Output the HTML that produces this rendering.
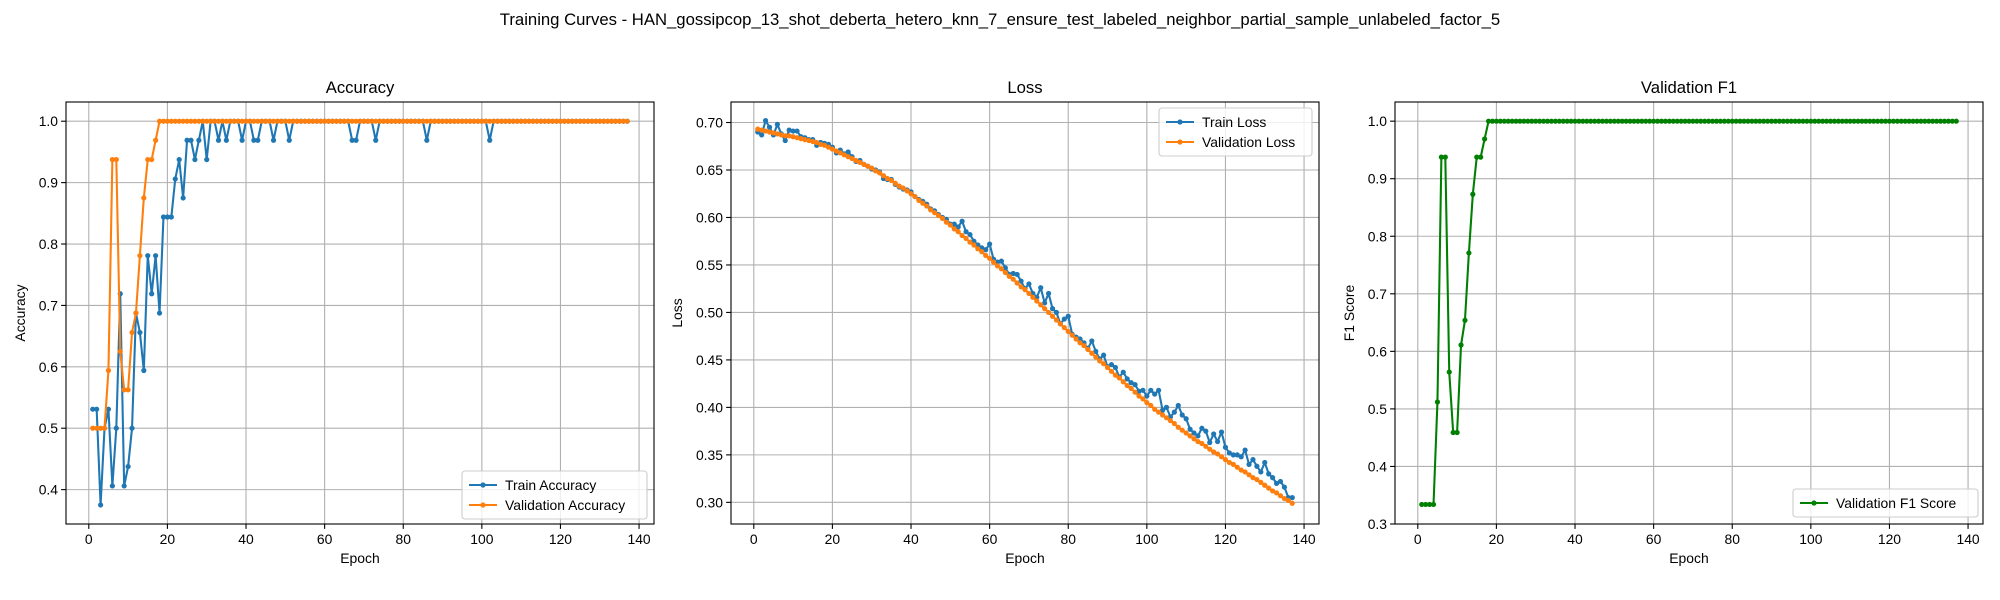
<!DOCTYPE html>
<html><head><meta charset="utf-8"><style>
html,body{margin:0;padding:0;background:#fff;}
svg{display:block;font-family:"Liberation Sans","DejaVu Sans",sans-serif;}
</style></head><body>
<svg id="fig" width="2000" height="600" viewBox="0 0 2000 600" xmlns="http://www.w3.org/2000/svg">
<rect width="2000" height="600" fill="#fff"/>
<text x="1000" y="25" text-anchor="middle" font-size="16.7" fill="#000">Training Curves - HAN_gossipcop_13_shot_deberta_hetero_knn_7_ensure_test_labeled_neighbor_partial_sample_unlabeled_factor_5</text>
</svg>
<script>
const epochs = Array.from({length:137},(_,i)=>i+1);
const trainAcc = [0.531,0.531,0.375,0.5,0.531,0.406,0.5,0.719,0.406,0.4375,0.5,0.6875,0.656,0.594,0.781,0.719,0.781,0.6875,0.844,0.844,
0.844,0.906,0.9375,0.875,0.969,0.969,0.9375,0.969,1,0.9375,1,1,0.969,1,0.969,1,1,1,0.969,1,
1,0.969,0.969,1,1,1,0.969,1,1,1,0.969,1,1,1,1,1,1,1,1,1,
1,1,1,1,1,1,0.969,0.969,1,1,1,1,0.969,1,1,1,1,1,1,1,
1,1,1,1,1,0.969,1,1,1,1,1,1,1,1,1,1,1,1,1,1,
1,0.969,1,1,1,1,1,1,1,1,1,1,1,1,1,1,1,1,1,1,
1,1,1,1,1,1,1,1,1,1,1,1,1,1,1,1,1];
const valAcc = [0.5,0.5,0.5,0.5,0.594,0.9375,0.9375,0.625,0.5625,0.5625,0.656,0.6875,0.781,0.875,0.9375,0.9375,0.969,
1,1,1,1,1,1,1,1,1,1,1,1,1,1,1,1,1,1,1,1,1,1,1,1,1,1,1,1,1,1,1,1,1,1,1,1,1,1,1,1,1,1,1,1,1,1,1,1,1,1,1,1,1,
1,1,1,1,1,1,1,1,1,1,1,1,1,1,1,1,1,1,1,1,1,1,1,1,1,1,1,1,1,1,1,1,1,1,1,1,1,1,1,1,1,1,1,1,1,1,1,1,1,1,1,1,1,1,1,1,1,1,1,1,1,1,1,1,1,1,1];
const trainLoss = [0.690,0.687,0.702,0.695,0.687,0.698,0.688,0.681,0.692,0.691,
0.691,0.685,0.684,0.682,0.682,0.676,0.679,0.678,0.677,0.674,
0.668,0.671,0.667,0.669,0.664,0.659,0.660,0.656,0.654,0.651,
0.650,0.648,0.641,0.640,0.640,0.635,0.632,0.630,0.629,0.627,
0.622,0.619,0.617,0.614,0.609,0.607,0.603,0.600,0.598,0.593,
0.593,0.590,0.596,0.585,0.582,0.575,0.571,0.568,0.566,0.572,
0.556,0.553,0.554,0.547,0.540,0.541,0.540,0.533,0.525,0.530,
0.520,0.516,0.526,0.510,0.520,0.504,0.500,0.488,0.493,0.496,
0.477,0.474,0.472,0.468,0.462,0.470,0.459,0.451,0.455,0.443,
0.445,0.442,0.432,0.437,0.430,0.426,0.424,0.417,0.418,0.412,
0.418,0.414,0.418,0.397,0.400,0.390,0.395,0.402,0.392,0.388,
0.377,0.373,0.370,0.378,0.375,0.363,0.372,0.364,0.374,0.358,
0.352,0.350,0.350,0.348,0.355,0.340,0.345,0.338,0.332,0.342,
0.330,0.326,0.320,0.322,0.316,0.305,0.305];
const valLoss = [0.693,0.692,0.691,0.690,0.689,0.688,0.687,0.686,0.686,0.685,
0.684,0.683,0.682,0.681,0.680,0.679,0.677,0.676,0.674,0.672,
0.670,0.668,0.666,0.664,0.662,0.660,0.658,0.656,0.654,0.652,
0.649,0.647,0.644,0.641,0.639,0.636,0.633,0.631,0.628,0.625,
0.622,0.618,0.615,0.612,0.608,0.605,0.602,0.599,0.595,0.592,
0.588,0.585,0.581,0.578,0.574,0.571,0.567,0.564,0.560,0.557,
0.553,0.549,0.546,0.542,0.538,0.535,0.531,0.527,0.524,0.520,
0.516,0.512,0.508,0.504,0.500,0.496,0.492,0.488,0.484,0.480,
0.476,0.472,0.468,0.465,0.461,0.457,0.453,0.449,0.446,0.442,
0.438,0.434,0.431,0.427,0.423,0.420,0.416,0.412,0.409,0.405,
0.402,0.398,0.395,0.392,0.389,0.386,0.383,0.379,0.376,0.373,
0.370,0.367,0.364,0.362,0.359,0.356,0.353,0.351,0.348,0.345,
0.342,0.340,0.337,0.334,0.332,0.329,0.326,0.324,0.321,0.318,
0.315,0.312,0.310,0.307,0.304,0.302,0.299];
const valF1 = [0.334,0.334,0.334,0.334,0.512,0.9375,0.9375,0.564,0.459,0.459,0.611,0.654,0.771,0.873,0.9375,0.9375,0.969,
1,1,1,1,1,1,1,1,1,1,1,1,1,1,1,1,1,1,1,1,1,1,1,1,1,1,1,1,1,1,1,1,1,1,1,1,1,1,1,1,1,1,1,1,1,1,1,1,1,1,1,1,1,
1,1,1,1,1,1,1,1,1,1,1,1,1,1,1,1,1,1,1,1,1,1,1,1,1,1,1,1,1,1,1,1,1,1,1,1,1,1,1,1,1,1,1,1,1,1,1,1,1,1,1,1,1,1,1,1,1,1,1,1,1,1,1,1,1,1,1];
const xTicks = [0,20,40,60,80,100,120,140];
const accTicks = [0.4,0.5,0.6,0.7,0.8,0.9,1.0];
const lossTicks = [0.30,0.35,0.40,0.45,0.50,0.55,0.60,0.65,0.70];
const f1Ticks = [0.3,0.4,0.5,0.6,0.7,0.8,0.9,1.0];

const NS="http://www.w3.org/2000/svg";
const fig=document.getElementById('fig');
function mk(tag,attrs,parent){const e=document.createElementNS(NS,tag);for(const k in attrs)e.setAttribute(k,attrs[k]);(parent||fig).appendChild(e);return e;}

function panel(cfg){
  const {left,top,w,h,xmin,xmax,ymin,ymax}=cfg;
  const g=mk('g',{});
  
  
  const X=v=>left+(v-xmin)/(xmax-xmin)*w;
  const Y=v=>top+h-(v-ymin)/(ymax-ymin)*h;
  // grid
  xTicks.forEach(t=>{const x=X(t);
    const l=mk('line',{x1:x,x2:x,y1:top,y2:top+h,stroke:'#b0b0b0','stroke-width':1.1},g);
    
    
    mk('line',{x1:x,x2:x,y1:top+h,y2:top+h+4.9,stroke:'#000','stroke-width':1.1},g);
    const tx=mk('text',{x:x,y:top+h+20,'text-anchor':'middle','font-size':13.9,fill:'#000'},g);
    tx.textContent=t;
    
    
  });
  cfg.yTicks.forEach(t=>{const y=Y(t);
    const l=mk('line',{x1:left,x2:left+w,y1:y,y2:y,stroke:'#b0b0b0','stroke-width':1.1},g);
    
    
    mk('line',{x1:left-4.9,x2:left,y1:y,y2:y,stroke:'#000','stroke-width':1.1},g);
    const tx=mk('text',{x:left-8,y:y+5,'text-anchor':'end','font-size':13.9,fill:'#000'},g);
    tx.textContent=t.toFixed(cfg.dec);
    
    
  });
  // series
  cfg.series.forEach(s=>{
    const pts=epochs.map((e,i)=>X(e).toFixed(2)+','+Y(s.data[i]).toFixed(2)).join(' ');
    const pl=mk('polyline',{points:pts,fill:'none',stroke:s.color,'stroke-width':2.08,'stroke-linejoin':'round'},g);
    
    
    epochs.forEach((e,i)=>{
      const c=mk('circle',{cx:X(e),cy:Y(s.data[i]),r:2.6,fill:s.color},g);
      
      
    });
  });
  // frame
  const fr=mk('rect',{x:left,y:top,width:w,height:h,fill:'none',stroke:'#000','stroke-width':1.1},g);
  
  
  const tt=mk('text',{x:left+w/2,y:top-9,'text-anchor':'middle','font-size':16.7,fill:'#000'},g);
  tt.textContent=cfg.title;
  
  
  const xl=mk('text',{x:left+w/2,y:top+h+39,'text-anchor':'middle','font-size':13.9,fill:'#000'},g);
  xl.textContent='Epoch';
  
  
  const yx=cfg.ylabX, yy=top+h/2;
  const yl=mk('text',{x:yx,y:yy,'text-anchor':'middle','font-size':13.9,fill:'#000',transform:`rotate(-90 ${yx} ${yy})`},g);
  yl.textContent=cfg.ylabel;
  
  
  // legend
  const L=cfg.legend;
  const lg=mk('g',{},g);
  
  
  mk('rect',{x:L.x,y:L.y,width:L.w,height:cfg.series.length*20+8,rx:3,fill:'#fff','fill-opacity':0.8,stroke:'#ccc','stroke-width':1.1},lg);
  cfg.series.forEach((s,i)=>{
    const cy=L.y+14+i*20;
    const e=mk('g',{},lg);
    
    
    mk('line',{x1:L.x+7,x2:L.x+35,y1:cy,y2:cy,stroke:s.color,'stroke-width':2.08},e);
    mk('circle',{cx:L.x+21,cy:cy,r:2.6,fill:s.color},e);
    const t=mk('text',{x:L.x+43,y:cy+5,'font-size':13.9,fill:'#000'},e);
    t.textContent=s.label;
  });
}

panel({name:'accuracy',title:'Accuracy',ylabel:'Accuracy',left:66,top:102,w:588,h:422,xmin:-5.8,xmax:143.8,ymin:0.344,ymax:1.0313,yTicks:accTicks,dec:1,ylabX:25,
  series:[{id:'train-accuracy',label:'Train Accuracy',color:'#1f77b4',data:trainAcc},{id:'validation-accuracy',label:'Validation Accuracy',color:'#ff7f0e',data:valAcc}],
  legend:{x:462,y:471,w:185}});
panel({name:'loss',title:'Loss',ylabel:'Loss',left:731,top:102,w:588,h:422,xmin:-5.8,xmax:143.8,ymin:0.2772,ymax:0.7216,yTicks:lossTicks,dec:2,ylabX:682,
  series:[{id:'train-loss',label:'Train Loss',color:'#1f77b4',data:trainLoss},{id:'validation-loss',label:'Validation Loss',color:'#ff7f0e',data:valLoss}],
  legend:{x:1159,y:108,w:153}});
panel({name:'validation-f1',title:'Validation F1',ylabel:'F1 Score',left:1395,top:102,w:588,h:422,xmin:-5.8,xmax:143.8,ymin:0.3,ymax:1.0333,yTicks:f1Ticks,dec:1,ylabX:1354,
  series:[{id:'validation-f1',label:'Validation F1 Score',color:'#008000',data:valF1}],
  legend:{x:1793,y:489,w:185}});
</script>
</body></html>
